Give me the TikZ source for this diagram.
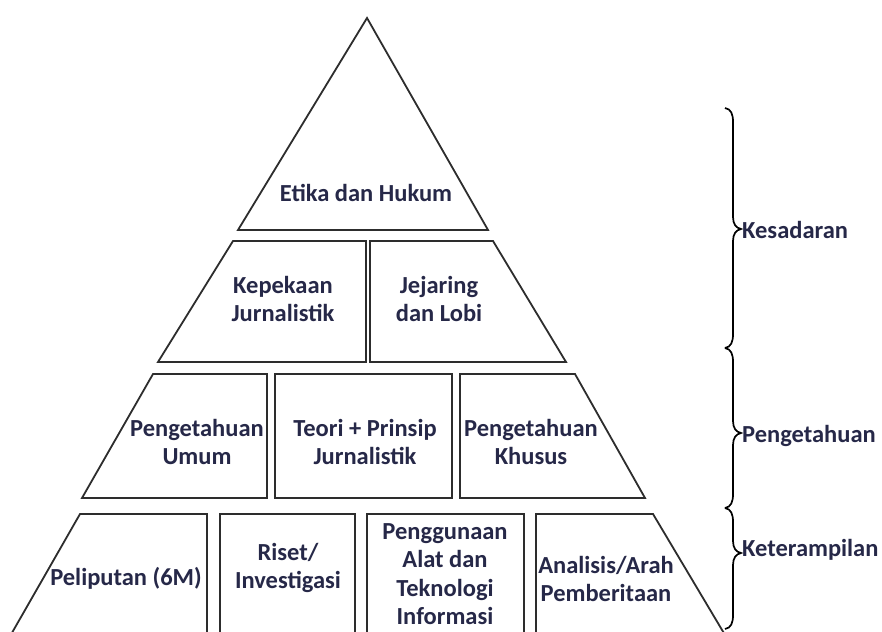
\documentclass[tikz,border=0pt]{standalone}
\usepackage{fontspec}
\setmainfont{Carlito}
\definecolor{txt}{RGB}{38,40,72}
\definecolor{ln}{RGB}{45,45,45}
\newcommand{\vbrc}[3]{% top, tip, bottom
  \draw[brc] (725,#1) .. controls (731,#1+1) and (733,#1+6) .. (733,#1+14)
    -- (733,#2-12) .. controls (733,#2-5) and (736,#2-1) .. (741,#2)
    .. controls (736,#2+1) and (733,#2+5) .. (733,#2+12)
    -- (733,#3-14) .. controls (733,#3-6) and (731,#3-1) .. (725,#3);}
\begin{document}
\begin{tikzpicture}[x=1pt,y=-1pt,
  blk/.style={draw=ln, line width=1.8pt, line join=miter, fill=white},
  lbl/.style={text=txt, font=\bfseries\fontsize{24.5}{28.5}\selectfont, align=center, inner sep=0pt},
  side/.style={text=txt, font=\bfseries\fontsize{24.5}{28.5}\selectfont, anchor=west, inner sep=0pt},
  brc/.style={draw=black, line width=1.7pt}]
\useasboundingbox (0,0) rectangle (882,631);
\clip (0,0) rectangle (882,631);
% row 1
\draw[blk] (367,18) -- (488,230) -- (238,230) -- cycle;
% row 2
\draw[blk] (233,241) -- (366,241) -- (366,362) -- (158,362) -- cycle;
\draw[blk] (370,241) -- (493,241) -- (566,362) -- (370,362) -- cycle;
% row 3
\draw[blk] (153,374) -- (267,374) -- (267,498) -- (82,498) -- cycle;
\draw[blk] (275,374) rectangle (452,498);
\draw[blk] (460,374) -- (575,374) -- (645,498) -- (460,498) -- cycle;
% row 4
\draw[blk] (80,514) -- (207,514) -- (207,645) -- (5,645) -- cycle;
\draw[blk] (220,514) rectangle (355,645);
\draw[blk] (367,514) rectangle (524,645);
\draw[blk] (536,514) -- (653,514) -- (731,645) -- (536,645) -- cycle;
% texts
\node[lbl] (etika) at (366,193) {Etika dan Hukum};
\node[lbl] (kepekaan) at (283,299) {Kepekaan\\Jurnalistik};
\node[lbl] (jejaring) at (439,299) {Jejaring\\dan Lobi};
\node[lbl] (pumum) at (197,442) {Pengetahuan\\Umum};
\node[lbl] (teori) at (365,442) {Teori + Prinsip\\Jurnalistik};
\node[lbl] (pkhusus) at (531,442) {Pengetahuan\\Khusus};
\node[lbl] (peliputan) at (126,578) {Peliputan (6M)};
\node[lbl] (riset) at (288,568) {Riset/\\Investigasi};
\node[lbl] (alat) at (445,574) {Penggunaan\\Alat dan\\Teknologi\\Informasi};
\node[lbl] (analisis) at (606,579) {Analisis/Arah\\Pemberitaan};
% braces
\vbrc{108}{229}{348}
\vbrc{348}{433}{508}
\vbrc{508}{553}{629}
\node[side] (kesadaran) at (742,230) {Kesadaran};
\node[side] (pengetahuan) at (742,436) {Pengetahuan};
\node[side] (keterampilan) at (742,550) {Keterampilan};
\end{tikzpicture}
\end{document}
